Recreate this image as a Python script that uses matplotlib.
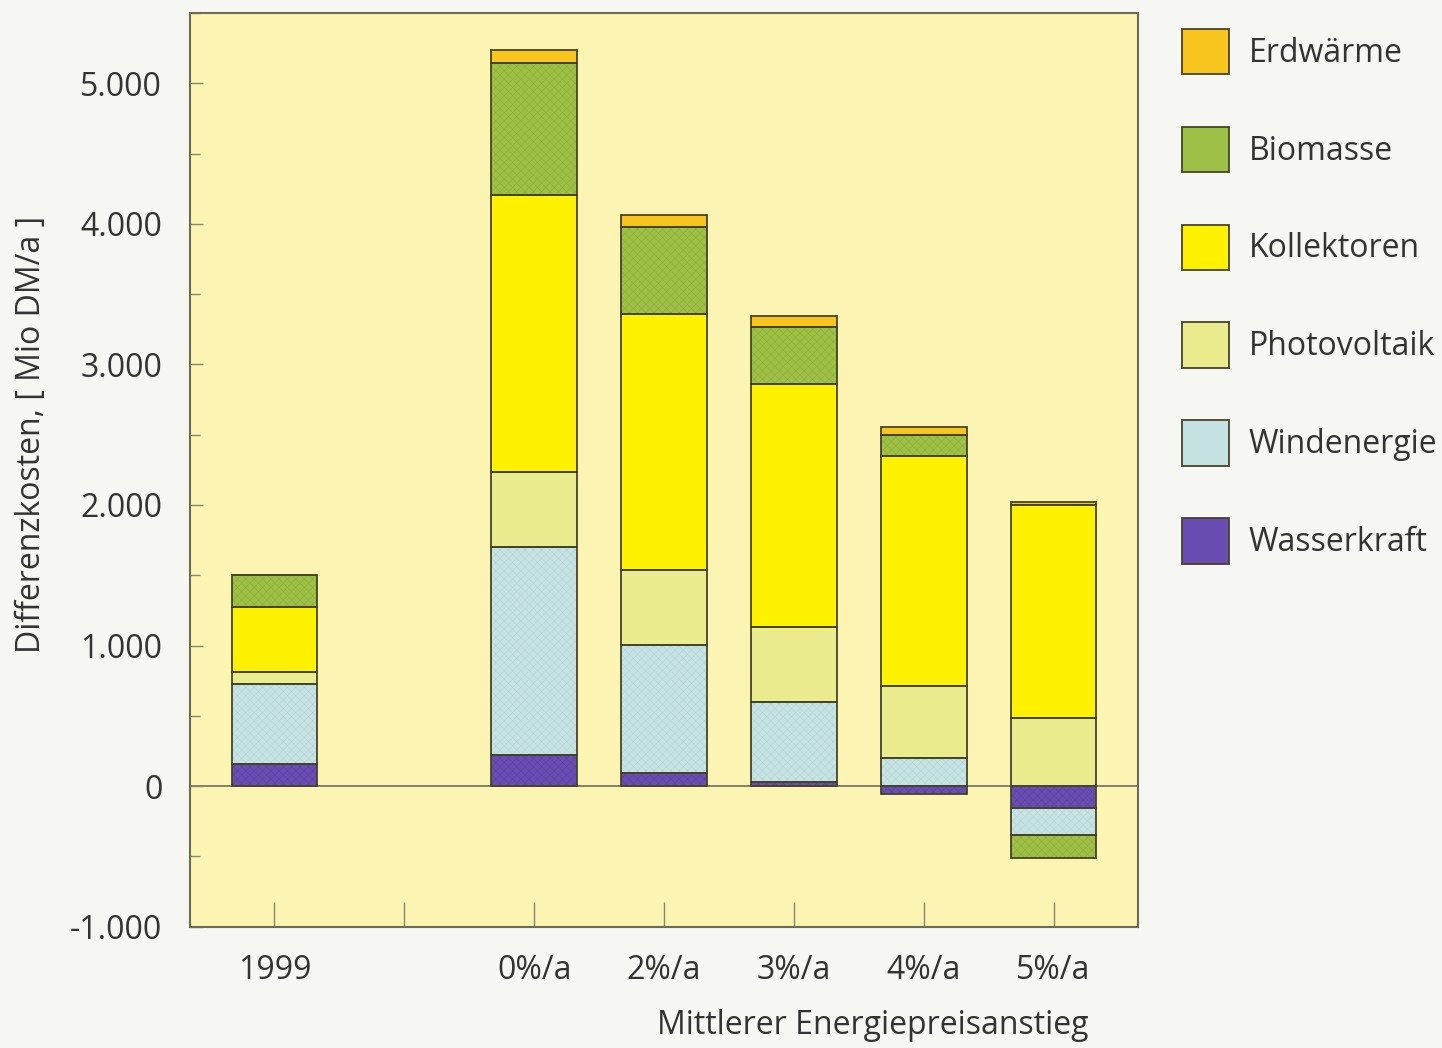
import numpy as np
import matplotlib.pyplot as plt
from matplotlib.patches import Patch
from matplotlib.ticker import MultipleLocator, FuncFormatter

plt.rcParams['font.family'] = ['Open Sans', 'DejaVu Sans']
plt.rcParams['hatch.linewidth'] = 0.4

# Szenarien und Lage auf der x-Achse (Lücke nach 1999)
kategorien = ['1999', '0%/a', '2%/a', '3%/a', '4%/a', '5%/a']
positionen = [0, 2, 3, 4, 5, 6]

# Differenzkosten in Mio DM/a je Sparte
wasserkraft = [157, 220, 93, 30, -60, -155]
windenergie = [569, 1480, 911, 565, 200, -190]
photovoltaik = [85, 534, 534, 534, 512, 484]
kollektoren = [463, 1971, 1822, 1730, 1637, 1516]
biomasse = [228, 940, 620, 405, 150, -165]
erdwaerme = [0, 92, 85, 78, 55, 20]

# von unten nach oben gestapelt
sparten = ['Wasserkraft', 'Windenergie', 'Photovoltaik', 'Kollektoren', 'Biomasse', 'Erdwärme']
werte = [wasserkraft, windenergie, photovoltaik, kollektoren, biomasse, erdwaerme]
farben = ['#6a4db3', '#c6e2e2', '#ebec8e', '#fff200', '#9fc046', '#f7c51e']
schraffur = ['xxxx', 'xxxx', '', '', 'xxxx', '']
schraff_farbe = ['#5a3fa0', '#b3d3d3', '#ebec8e', '#fff200', '#8cae38', '#f7c51e']

fig = plt.figure(figsize=(14.42, 10.48), dpi=100, facecolor='#f6f6f2')
ax = fig.add_axes([0.1318, 0.1159, 0.6574, 0.8715])
ax.set_facecolor('#fbf4b3')

breite = 0.66
unten_pos = np.zeros(len(positionen))
unten_neg = np.zeros(len(positionen))
for name, w, c, h, hc in zip(sparten, werte, farben, schraffur, schraff_farbe):
    w = np.array(w, dtype=float)
    basis = np.where(w >= 0, unten_pos, unten_neg)
    ax.bar(positionen, w, breite, bottom=basis, color=c, edgecolor=hc,
           hatch=h, linewidth=0, zorder=2)
    ax.bar(positionen, w, breite, bottom=basis, fill=False,
           edgecolor='#45432a', linewidth=1.3, zorder=3)
    unten_pos = np.where(w >= 0, unten_pos + w, unten_pos)
    unten_neg = np.where(w < 0, unten_neg + w, unten_neg)

ax.axhline(0, color='#7a7760', linewidth=1.3, zorder=1)

ax.set_xlim(-0.65, 6.65)
ax.set_ylim(-1000, 5500)
ax.yaxis.set_major_locator(MultipleLocator(1000))
ax.yaxis.set_minor_locator(MultipleLocator(500))
ax.yaxis.set_major_formatter(FuncFormatter(lambda v, p: f'{int(v):,}'.replace(',', '.')))
ax.set_xticks(range(0, 7))
ax.set_xticklabels(['1999', '', '0%/a', '2%/a', '3%/a', '4%/a', '5%/a'])

ax.tick_params(axis='y', which='both', direction='in', length=7, width=1,
               color='#8a8770', labelsize=23, labelcolor='#333333', pad=20)
ax.tick_params(axis='x', direction='in', length=18, width=1, color='#8a8770',
               labelsize=23, labelcolor='#333333', pad=20)
ax.tick_params(axis='y', which='major', length=9)
for s in ax.spines.values():
    s.set_color('#6e6b55')
    s.set_linewidth(1.5)

fig.text(0.022, 0.585, 'Differenzkosten, [ Mio DM/a ]', fontsize=23,
         color='#333333', rotation=90, ha='center', va='center')
fig.text(0.605, 0.006, 'Mittlerer Energiepreisanstieg', fontsize=23,
         color='#333333', ha='center', va='bottom')

# Legende rechts neben dem Diagramm, oberste Sparte zuerst
griffe = [Patch(facecolor=c, edgecolor='#45432a', linewidth=1.3)
          for c in farben[::-1]]
fig.legend(griffe, sparten[::-1], loc='upper left', bbox_to_anchor=(0.7997, 1.0),
           frameon=False, fontsize=23, handlelength=1.48, handleheight=1.8,
           handletextpad=0.62, labelspacing=1.65, labelcolor='#333333')

plt.savefig('out.png', dpi=100, facecolor=fig.get_facecolor())
